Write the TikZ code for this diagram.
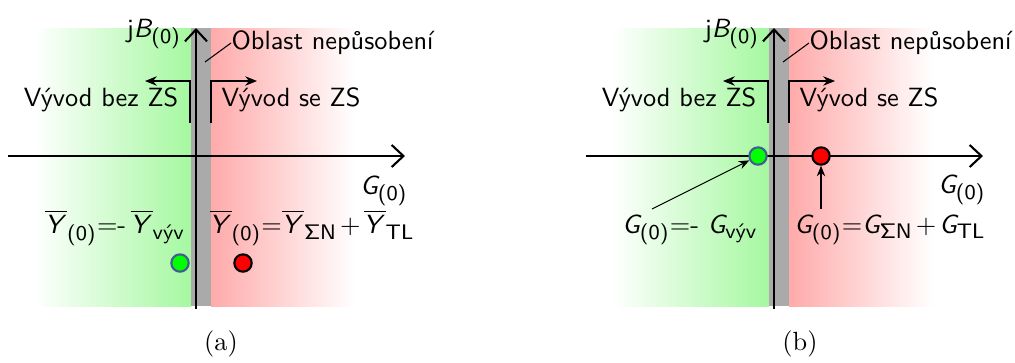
\documentclass[tikz,border=0pt]{standalone}
\usepackage{amsmath}
\usetikzlibrary{arrows.meta}
\DeclareMathAlphabet{\mathsfit}{OT1}{cmss}{m}{sl}
\DeclareMathSizes{10}{10}{8}{6}
\newcommand\tsb[1]{\text{\sffamily #1}}
\newcommand\oY{\overline{\mathsfit{Y}}}
\newcommand\gG{\mathsfit{G}}
\newcommand\pl{\mkern2mu{+}\mkern2mu}
\definecolor{gband}{RGB}{165,248,160}
\definecolor{rband}{RGB}{255,170,170}
\definecolor{gyband}{RGB}{170,170,170}
\definecolor{gdotc}{RGB}{0,255,0}
\definecolor{gdotb}{RGB}{70,90,150}
\definecolor{rdotc}{RGB}{255,0,0}
\tikzset{
  axisline/.style={line width=0.8pt,-{Straight Barb[length=4.5pt,width=8.4pt]}},
  brk/.style={line width=0.4pt,-{Stealth[length=4.5pt,width=3.6pt]}},
  ptr/.style={line width=0.4pt,-{Stealth[length=4pt,width=3.2pt]}},
  lbl/.style={font=\sffamily,inner sep=0pt},
  mlbl/.style={font=\sffamily,inner sep=0pt},
  gdot/.style={circle,fill=gdotc,draw=gdotb,line width=0.8pt,minimum size=6.6pt,inner sep=0pt},
  rdot/.style={circle,fill=rdotc,draw=black,line width=0.8pt,minimum size=6.6pt,inner sep=0pt},
  capt/.style={font=\rmfamily,inner sep=0pt}
}
\begin{document}
\begin{tikzpicture}[x=0.38pt,y=-0.38pt]
\useasboundingbox (0,0) rectangle (1015,362);
% ---------- panel (a)
\shade[left color=white,right color=gband] (33,28) rectangle (191,306);
\shade[left color=rband,right color=white] (211,28) rectangle (355,306);
\fill[gyband] (191,28) rectangle (211,306);
\coordinate (aO) at (196,309);
\coordinate (aT) at (196,28);
\coordinate (aL) at (8,156);
\coordinate (aR) at (405,156);
\draw[axisline] (aO) -- (aT);
\draw[axisline] (aL) -- (aR);
\node[mlbl] (ajb) at (154,34) {j$\mathsfit{B}_{\tsb{(0)}}$};
\node[lbl,anchor=west] (aobl) at (231,43) {Oblast nep\r{u}soben\'{\i}};
\coordinate (aob1) at (205,62);
\draw[line width=0.4pt] (aob1) -- (aobl.west);
\coordinate (ab1) at (190,123); \coordinate (ab2) at (190,81); \coordinate (ab3) at (145,81);
\coordinate (ac1) at (211,123); \coordinate (ac2) at (211,81); \coordinate (ac3) at (257,81);
\draw[brk] (ab1) -- (ab2) -- (ab3);
\draw[brk] (ac1) -- (ac2) -- (ac3);
\node[lbl] (abez) at (101,100) {V\'yvod bez ZS};
\node[lbl] (ase) at (291,100) {V\'yvod se ZS};
\node[mlbl] (aG) at (384,191) {$\gG_{\tsb{(0)}}$};
\node[mlbl] (aeq1) at (115,228) {$\oY_{\tsb{(0)}}{=}\tsb{-}\,\oY_{\tsb{v\'yv}}$};
\node[mlbl] (aeq2) at (312,228) {$\oY_{\tsb{(0)}}{=}\oY_{\mathsf{\Sigma N}}\pl\oY_{\tsb{TL}}$};
\node[gdot] (agd) at (180,263) {};
\node[rdot] (ard) at (243,263) {};
\node[capt] (acap) at (221,344) {(a)};
% ---------- panel (b)
\shade[left color=white,right color=gband] (611,28) rectangle (769,306);
\shade[left color=rband,right color=white] (789,28) rectangle (933,306);
\fill[gyband] (769,28) rectangle (789,306);
\coordinate (bO) at (774,309);
\coordinate (bT) at (774,28);
\coordinate (bL) at (586,156);
\coordinate (bR) at (983,156);
\draw[axisline] (bO) -- (bT);
\draw[axisline] (bL) -- (bR);
\node[mlbl] (bjb) at (732,34) {j$\mathsfit{B}_{\tsb{(0)}}$};
\node[lbl,anchor=west] (bobl) at (809,43) {Oblast nep\r{u}soben\'{\i}};
\coordinate (bob1) at (783,62);
\draw[line width=0.4pt] (bob1) -- (bobl.west);
\coordinate (bb1) at (768,123); \coordinate (bb2) at (768,81); \coordinate (bb3) at (723,81);
\coordinate (bc1) at (789,123); \coordinate (bc2) at (789,81); \coordinate (bc3) at (835,81);
\draw[brk] (bb1) -- (bb2) -- (bb3);
\draw[brk] (bc1) -- (bc2) -- (bc3);
\node[lbl] (bbez) at (679,100) {V\'yvod bez ZS};
\node[lbl] (bse) at (869,100) {V\'yvod se ZS};
\node[mlbl] (bG) at (962,190) {$\gG_{\tsb{(0)}}$};
\node[mlbl] (beq1) at (690,230) {$\gG_{\tsb{(0)}}{=}\tsb{-}\ \gG_{\tsb{v\'yv}}$};
\node[mlbl] (beq2) at (890,230) {$\gG_{\tsb{(0)}}{=}\gG_{\mathsf{\Sigma N}}\pl\gG_{\tsb{TL}}$};
\node[gdot] (bgd) at (758,156) {};
\node[rdot] (brd) at (821,156) {};
\coordinate (bp1) at (652,209);
\coordinate (bp2) at (821,209);
\draw[ptr] (bp1) -- (bgd);
\draw[ptr] (bp2) -- (brd);
\node[capt] (bcap) at (800,344) {(b)};
\end{tikzpicture}
\end{document}
